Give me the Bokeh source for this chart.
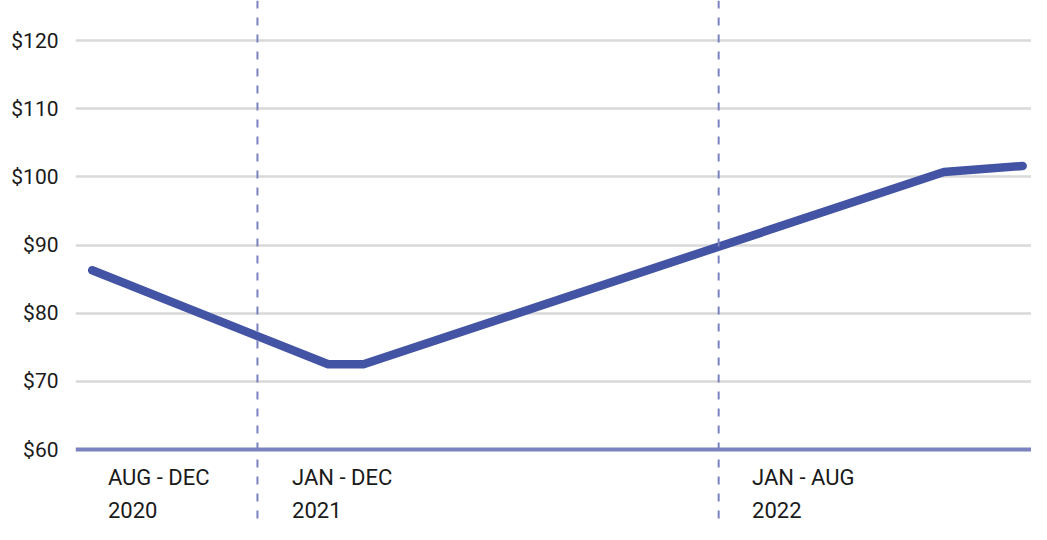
from bokeh.plotting import figure
from bokeh.models import Span, FixedTicker, Range1d, ColumnDataSource
from bokeh.core.properties import value
from bokeh.embed import file_html
from bokeh.resources import INLINE

# Data: x in months since Aug 2020 (Aug 2020 = 0), y in dollars
month_pos = [0.20, 6.34, 7.26, 22.36, 24.41]
price = [86.3, 72.5, 72.5, 100.7, 101.6]

y_ticks = [60, 70, 80, 90, 100, 110, 120]
period_labels = ["AUG - DEC", "JAN - DEC", "JAN - AUG"]
year_labels = ["2020", "2021", "2022"]
period_start = [0.61, 5.40, 17.37]
year_boundaries = [4.5, 16.5]

LINE_COLOR = "#4354a4"
ACCENT = "#7a82c0"
FONT = "Roboto"

p = figure(width=1031, height=524, output_backend="svg", toolbar_location=None,
           x_range=Range1d(-0.234, 24.64), y_range=Range1d(49.0, 125.87),
           min_border_left=75, min_border_right=0, min_border_top=0, min_border_bottom=0)
p.outline_line_color = None
p.xaxis.visible = False

yaxis = p.yaxis[0]
yaxis.ticker = FixedTicker(ticks=y_ticks)
yaxis.major_label_overrides = {t: f"${t}" for t in y_ticks}
yaxis.axis_line_color = None
yaxis.major_tick_line_color = None
yaxis.minor_tick_line_color = None
yaxis.major_tick_out = 0
yaxis.major_label_standoff = 17
yaxis.major_label_text_font = FONT
yaxis.major_label_text_font_size = "21px"
yaxis.major_label_text_color = "#1a1a1a"

p.xgrid.visible = False
p.ygrid.ticker = FixedTicker(ticks=y_ticks[1:])
p.ygrid.grid_line_color = "#d9d9d9"
p.ygrid.grid_line_width = 2.5

for b in year_boundaries:
    p.add_layout(Span(location=b, dimension="height", line_color=ACCENT,
                      line_width=2, line_dash="8 9"))

p.add_layout(Span(location=60, dimension="width", line_color=ACCENT, line_width=4))

p.line(month_pos, price, line_color=LINE_COLOR, line_width=8.5,
       line_cap="round", line_join="round")

src = ColumnDataSource(dict(x=period_start, p=period_labels, yr=year_labels,
                            y1=[55.9] * 3, y2=[51.1] * 3))
p.text(x="x", y="y1", text="p", source=src, text_font=value(FONT),
       text_font_size="22px", text_color="#1a1a1a", text_baseline="middle")
p.text(x="x", y="y2", text="yr", source=src, text_font=value(FONT),
       text_font_size="22px", text_color="#1a1a1a", text_baseline="middle")

open("out.html", "w").write(file_html(p, INLINE))
